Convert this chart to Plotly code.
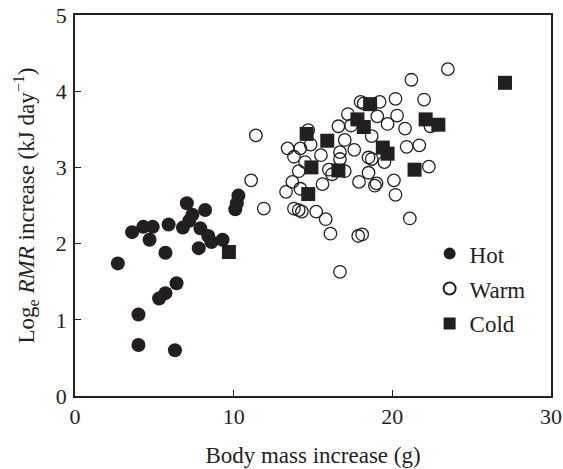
import plotly.graph_objects as go

# Hot group
hot_x = [2.7, 3.6, 4.3, 4.9, 4.7, 5.9, 5.7, 6.8, 7.05, 7.4, 7.2, 8.2, 7.9, 8.4, 8.6, 9.3, 7.8,
         10.3, 10.2, 10.1, 6.4, 5.7, 5.3, 4.0, 4.0, 6.3]
hot_y = [1.74, 2.15, 2.22, 2.22, 2.05, 2.25, 1.88, 2.21, 2.53, 2.38, 2.3, 2.44, 2.2, 2.1, 2.02, 2.05, 1.94,
         2.63, 2.53, 2.45, 1.48, 1.35, 1.28, 1.07, 0.67, 0.6]

# Warm group
warm_x = [23.5, 21.2, 20.2, 22.0, 18.2, 19.2, 17.2, 19.05, 20.3, 16.6, 17.4, 19.7, 20.8, 22.4,
          14.7, 18.7, 17.0, 13.4, 14.2, 14.85, 13.8, 15.5, 16.7, 17.6, 20.9, 21.7, 14.5, 16.7,
          18.7, 19.5, 14.1, 16.0, 17.0, 22.3, 16.2, 18.5, 13.7, 15.6, 17.9, 19.0, 20.1, 13.3,
          14.2, 20.2, 13.8, 14.1, 14.3, 15.2, 15.8, 21.1, 16.1, 17.85, 18.1, 16.7, 11.4, 11.1,
          11.9, 18.0, 18.5, 18.9]
warm_y = [4.29, 4.15, 3.9, 3.89, 3.84, 3.86, 3.7, 3.67, 3.68, 3.54, 3.55, 3.57, 3.51, 3.54,
          3.49, 3.41, 3.36, 3.25, 3.25, 3.3, 3.14, 3.16, 3.2, 3.23, 3.27, 3.29, 3.07, 3.11,
          3.11, 3.07, 2.95, 2.97, 2.95, 3.01, 2.91, 2.93, 2.81, 2.78, 2.81, 2.79, 2.83, 2.68,
          2.72, 2.64, 2.46, 2.44, 2.42, 2.42, 2.32, 2.33, 2.13, 2.1, 2.12, 1.63, 3.42, 2.83,
          2.46, 3.86, 3.13, 2.76]

# Cold group
cold_x = [27.1, 18.6, 17.8, 18.2, 22.1, 22.9, 14.6, 15.9, 19.4, 19.7, 14.9, 16.6, 21.4, 14.7, 9.7]
cold_y = [4.11, 3.83, 3.63, 3.53, 3.63, 3.56, 3.44, 3.35, 3.26, 3.18, 3.0, 2.96, 2.97, 2.65, 1.89]

x_ticks = [0, 10, 20, 30]
y_ticks = [0, 1, 2, 3, 4, 5]

FONT = "Liberation Serif, Times New Roman, serif"
INK = "#231f20"

fig = go.Figure()
fig.add_trace(go.Scatter(
    x=hot_x, y=hot_y, mode="markers", name="Hot", legendgroup="hot",
    marker=dict(symbol="circle", size=14, color=INK, line=dict(width=0)),
))
fig.add_trace(go.Scatter(
    x=warm_x, y=warm_y, mode="markers", name="Warm", legendgroup="warm",
    marker=dict(symbol="circle-open", size=12.5, color=INK, line=dict(width=1.3, color=INK)),
))
fig.add_trace(go.Scatter(
    x=cold_x, y=cold_y, mode="markers", name="Cold", legendgroup="cold",
    marker=dict(symbol="square", size=14, color=INK, line=dict(width=0)),
))

fig.update_layout(
    width=563, height=469,
    margin=dict(l=75, r=12, t=15, b=73, autoexpand=False),
    paper_bgcolor="white", plot_bgcolor="white",
    font=dict(family=FONT, size=23, color=INK),
    showlegend=True,
    legend=dict(
        x=0.745, y=0.43, xanchor="left", yanchor="top",
        bgcolor="rgba(0,0,0,0)", borderwidth=0,
        font=dict(family=FONT, size=23, color=INK),
        tracegroupgap=2, itemsizing="constant",
    ),
    xaxis=dict(
        range=[0, 30], tickvals=x_ticks, ticks="inside", ticklen=6, tickwidth=1.3,
        tickcolor=INK, showline=True, linecolor=INK, linewidth=1.5, mirror=True,
        showgrid=False, zeroline=False, tickfont=dict(size=22), ticklabeloverflow="allow",
        automargin=False,
        title=dict(text="Body mass increase (g)", standoff=19, font=dict(size=23)),
    ),
    yaxis=dict(
        range=[0, 5], tickvals=y_ticks, ticks="inside", ticklen=6, tickwidth=1.3,
        tickcolor=INK, showline=True, linecolor=INK, linewidth=1.5, mirror=True,
        showgrid=False, zeroline=False, tickfont=dict(size=22), ticklabeloverflow="allow",
        automargin=False, ticklabelstandoff=2,
        title=dict(text="Log<sub>e</sub> <i>RMR</i> increase (kJ day<sup>−1</sup>)",
                   standoff=15, font=dict(size=23)),
    ),
)

fig.write_html("out.html", config={"displayModeBar": False},
               post_script="document.body.style.margin='0';")
